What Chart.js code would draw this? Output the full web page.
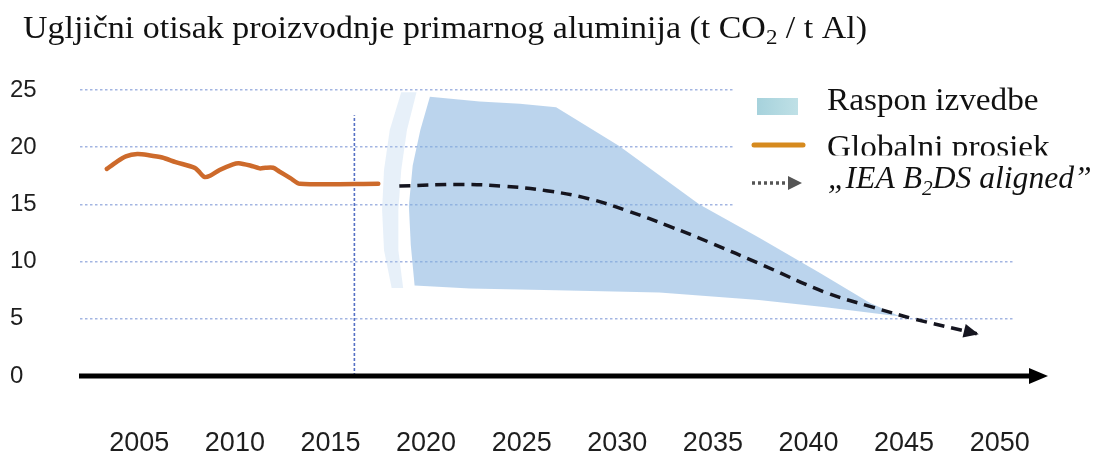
<!DOCTYPE html>
<html><head><meta charset="utf-8">
<script src="https://cdn.jsdelivr.net/npm/chart.js@4.4.1/dist/chart.umd.min.js"></script>
<style>html,body{margin:0;padding:0;background:#fff;}#wrap{width:1108px;height:455px;}</style>
</head><body><div id="wrap"><canvas id="c" width="1108" height="455"></canvas></div>
<script>
// ---- text ----
const titleMain = 'Ugljični otisak proizvodnje primarnog aluminija (t CO';
const titleSub = '2';
const titleEnd = ' / t Al)';
const legendBand = 'Raspon izvedbe';
const legendAvg = 'Globalni prosjek';
const legendProjA = '„IEA B';
const legendProjSub = '2';
const legendProjB = 'DS aligned”';

// ---- axes ----
const xMin = 2001.9;
const xMax = 2050.8;
const xTickYears = [2005, 2010, 2015, 2020, 2025, 2030, 2035, 2040, 2045, 2050];
const yTicks = [0, 5, 10, 15, 20, 25];

// ---- global average (orange) ----
const avgYears  = [2003.3, 2003.8, 2004.3, 2004.9, 2005.5, 2006.2, 2006.9, 2007.9, 2008.1, 2008.4, 2008.7, 2009.2, 2009.9, 2010.2, 2010.8, 2011.3, 2011.6, 2012.0, 2012.3, 2012.9, 2013.4, 2017.5];
const avgValues = [18.1, 18.7, 19.2, 19.4, 19.3, 19.1, 18.7, 18.2, 17.9, 17.4, 17.5, 18.0, 18.5, 18.6, 18.4, 18.15, 18.2, 18.2, 17.9, 17.3, 16.8, 16.8];

// ---- IEA B2DS aligned projection (dashed) ----
const projYears  = [2018.6, 2021.9, 2024.0, 2026.3, 2028.5, 2030.6, 2032.7, 2034.8, 2037.6, 2040.9, 2043.4, 2045.5, 2048.8];
const projValues = [16.6, 16.75, 16.6, 16.2, 15.5, 14.4, 13.1, 11.7, 9.7, 7.3, 6.0, 5.0, 3.7];

// ---- performance range (band outline, closed) ----
const bandYears  = [2020.2, 2022.8, 2024.9, 2026.8, 2030.1, 2034.3, 2037.4, 2040.6, 2043.2, 2044.8, 2040.9, 2037.4, 2032.2, 2026.8, 2022.3, 2019.4, 2019.2, 2019.1, 2019.3, 2019.7, 2020.2];
const bandValues = [24.4, 24.0, 23.8, 23.5, 20.1, 15.0, 12.1, 9.0, 6.4, 5.2, 6.0, 6.65, 7.3, 7.5, 7.65, 7.9, 11.45, 14.9, 18.4, 21.5, 24.4];

// ---- faint crescent left of the band (closed) ----
const arcYears  = [2018.7, 2018.1, 2017.8, 2017.7, 2017.8, 2018.2, 2018.8, 2018.55, 2018.55, 2018.7, 2019.0, 2019.5, 2018.7];
const arcValues = [24.8, 21.5, 18.0, 14.5, 11.0, 7.7, 7.7, 11.0, 14.5, 18.0, 21.5, 24.8, 24.8];

// ---- vertical marker (current year) ----
const markYears  = [2016.25, 2016.25];
const markValues = [0, 22.8];

const pts = (xs, ys) => xs.map((x, i) => ({x: x, y: ys[i]}));

const SANS = '"Liberation Sans", Arial, sans-serif';
const SERIF = '"Liberation Serif", "Times New Roman", serif';

function stretchText(ctx, text, x, y, sx) {
  ctx.save();
  ctx.translate(x, y); ctx.scale(sx, 1);
  ctx.fillText(text, 0, 0);
  ctx.restore();
  return ctx.measureText(text).width * sx;
}

const decor = {
  id: 'decor',
  afterDatasetsDraw(chart) {
    const ctx = chart.ctx;
    const ca = chart.chartArea;
    const y0 = chart.scales.y.getPixelForValue(0);
    ctx.save();
    // x axis line with arrow
    ctx.strokeStyle = '#000'; ctx.lineWidth = 5;
    ctx.beginPath(); ctx.moveTo(ca.left - 1, y0); ctx.lineTo(ca.right + 17, y0); ctx.stroke();
    ctx.fillStyle = '#000';
    ctx.beginPath(); ctx.moveTo(ca.right + 14, y0 - 8); ctx.lineTo(ca.right + 33, y0); ctx.lineTo(ca.right + 14, y0 + 8); ctx.closePath(); ctx.fill();

    // arrowhead at end of projection
    const meta = chart.getDatasetMeta(0).data;
    const a = meta[meta.length - 2], b = meta[meta.length - 1];
    const ang = Math.atan2(b.y - a.y, b.x - a.x);
    ctx.fillStyle = '#15151f';
    ctx.translate(b.x, b.y); ctx.rotate(ang);
    ctx.beginPath(); ctx.moveTo(2, 0); ctx.lineTo(-13, -7); ctx.lineTo(-13, 7); ctx.closePath(); ctx.fill();
    ctx.setTransform(1, 0, 0, 1, 0, 0);

    // legend
    ctx.fillStyle = '#fff';
    ctx.fillRect(735, 80, 373, 131);
    const g = ctx.createLinearGradient(757, 0, 798, 0);
    g.addColorStop(0, '#a6d2dc'); g.addColorStop(1, '#bfe0e6');
    ctx.fillStyle = g; ctx.fillRect(757, 98, 41, 17);
    ctx.strokeStyle = '#d68a1e'; ctx.lineWidth = 5; ctx.lineCap = 'round';
    ctx.beginPath(); ctx.moveTo(754, 145); ctx.lineTo(803, 145); ctx.stroke();
    ctx.lineCap = 'butt';
    ctx.strokeStyle = '#555'; ctx.lineWidth = 3.5; ctx.setLineDash([3, 3]);
    ctx.beginPath(); ctx.moveTo(752, 183); ctx.lineTo(790, 183); ctx.stroke();
    ctx.setLineDash([]);
    ctx.fillStyle = '#555';
    ctx.beginPath(); ctx.moveTo(788, 176); ctx.lineTo(802, 183); ctx.lineTo(788, 190); ctx.closePath(); ctx.fill();

    ctx.fillStyle = '#111'; ctx.textBaseline = 'alphabetic'; ctx.textAlign = 'left';
    ctx.font = '32px ' + SERIF;
    stretchText(ctx, legendBand, 827, 110, 1.04);
    ctx.save();
    ctx.beginPath(); ctx.rect(800, 120, 308, 35.5); ctx.clip();
    stretchText(ctx, legendAvg, 827, 157, 1.04);
    ctx.restore();
    let x = 828;
    ctx.font = 'italic 31px ' + SERIF;
    x += stretchText(ctx, legendProjA, x, 188, 1.02);
    ctx.font = 'italic 21px ' + SERIF;
    x += stretchText(ctx, legendProjSub, x, 195, 1.02);
    ctx.font = 'italic 31px ' + SERIF;
    stretchText(ctx, legendProjB, x, 188, 1.02);

    // title
    ctx.fillStyle = '#111';
    x = 23;
    const sx = 1.095;
    ctx.font = '31px ' + SERIF;
    x += stretchText(ctx, titleMain, x, 38, sx);
    ctx.font = '21px ' + SERIF;
    x += stretchText(ctx, titleSub, x, 44, sx);
    ctx.font = '31px ' + SERIF;
    stretchText(ctx, titleEnd, x, 38, sx);
    ctx.restore();
  }
};

new Chart(document.getElementById('c'), {
  type: 'scatter',
  data: {
    datasets: [
      { label: 'IEA B2DS aligned', data: pts(projYears, projValues), showLine: true, borderColor: '#15151f', borderWidth: 3.5, borderDash: [11, 7], tension: 0.4, pointRadius: 0, fill: false },
      { label: 'Globalni prosjek', data: pts(avgYears, avgValues), showLine: true, borderColor: '#cd6a2b', borderWidth: 4.5, tension: 0.25, pointRadius: 0, fill: false, borderCapStyle: 'round' },
      { label: 'marker', data: pts(markYears, markValues), showLine: true, borderColor: '#5570c4', borderWidth: 1.6, borderDash: [3, 2], pointRadius: 0, fill: false },
      { label: 'Raspon izvedbe', data: pts(bandYears, bandValues), showLine: true, borderWidth: 0, borderColor: 'rgba(0,0,0,0)', backgroundColor: 'rgba(131,177,222,0.55)', pointRadius: 0, fill: 'shape', tension: 0 },
      { label: 'arc', data: pts(arcYears, arcValues), showLine: true, borderWidth: 0, borderColor: 'rgba(0,0,0,0)', backgroundColor: 'rgba(170,200,232,0.28)', pointRadius: 0, fill: 'shape', tension: 0 }
    ]
  },
  options: {
    responsive: false,
    animation: false,
    devicePixelRatio: 1,
    layout: { padding: { left: 10, right: 93, top: 90, bottom: 0 } },
    plugins: { legend: { display: false }, title: { display: false }, tooltip: { enabled: false } },
    scales: {
      x: {
        type: 'linear', min: xMin, max: xMax,
        grid: { display: false, drawTicks: false },
        border: { display: false },
        afterBuildTicks: s => { s.ticks = xTickYears.map(v => ({ value: v })); },
        afterFit: s => { s.height = 79; },
        ticks: { autoSkip: false, maxRotation: 0, padding: 51, color: '#1e1e1e', font: { family: SANS, size: 27 }, callback: v => String(v) }
      },
      y: {
        type: 'linear', min: 0, max: 25,
        grid: { color: '#a3b5e2', lineWidth: 1.6, drawTicks: false },
        border: { display: false, dash: [2.5, 2.5] },
        afterBuildTicks: s => { s.ticks = yTicks.map(v => ({ value: v })); },
        afterFit: s => { s.width = 70; },
        ticks: { crossAlign: 'far', padding: 0, color: '#1e1e1e', font: { family: SANS, size: 24 }, callback: v => String(v) }
      }
    }
  },
  plugins: [decor]
});
</script>
</body></html>
